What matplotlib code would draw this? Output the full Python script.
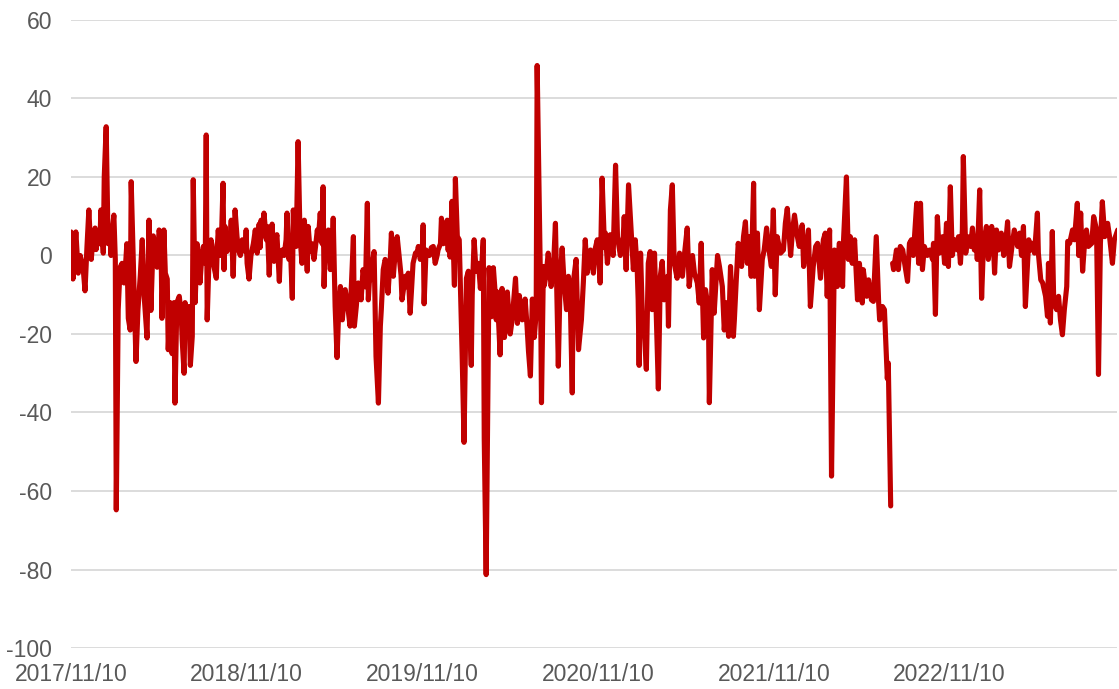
import numpy as np
import pandas as pd
import matplotlib
matplotlib.use("Agg")
import matplotlib.pyplot as plt

start_date = "2017-11-10"
end_date = "2023-10-24"

# days since start_date
day_offsets = [
    0, 4, 10, 15, 19, 25, 29, 33, 37, 42, 46, 50, 52, 56, 60, 62, 67, 69, 73, 77,
    81, 83, 87, 89, 92, 94, 98, 102, 106, 110, 114, 116, 119, 123, 125, 129, 133, 135, 139, 144,
    148, 152, 158, 162, 166, 171, 175, 179, 183, 187, 189, 193, 196, 200, 202, 206, 210, 214, 216, 220,
    225, 229, 231, 235, 237, 241, 245, 248, 252, 254, 258, 262, 266, 268, 272, 275, 279, 281, 283, 287,
    291, 293, 297, 302, 304, 306, 310, 312, 316, 318, 320, 324, 327, 331, 333, 337, 341, 345, 349, 352,
    356, 358, 362, 364, 366, 370, 374, 379, 383, 387, 391, 393, 395, 399, 401, 406, 408, 412, 414, 418,
    422, 424, 428, 433, 435, 439, 443, 447, 449, 453, 456, 460, 462, 466, 468, 472, 476, 480, 485, 489,
    491, 493, 497, 501, 505, 508, 512, 514, 518, 522, 524, 526, 528, 532, 535, 539, 543, 545, 549, 553,
    557, 560, 564, 568, 570, 574, 576, 580, 582, 587, 589, 593, 597, 601, 603, 607, 612, 616, 618, 620,
    624, 626, 630, 634, 639, 643, 645, 649, 653, 655, 659, 664, 666, 670, 674, 678, 682, 686, 688, 693,
    695, 699, 701, 705, 709, 711, 716, 720, 722, 726, 730, 732, 734, 738, 743, 745, 749, 753, 757, 761,
    763, 768, 770, 774, 778, 782, 784, 786, 788, 792, 797, 799, 803, 807, 813, 817, 822, 826, 828, 832,
    834, 838, 842, 847, 851, 855, 857, 859, 863, 869, 874, 878, 882, 884, 886, 892, 896, 901, 905, 907,
    913, 917, 924, 928, 932, 938, 944, 948, 951, 955, 959, 963, 967, 969, 976, 978, 982, 984, 988, 992,
    996, 998, 1003, 1007, 1011, 1013, 1017, 1021, 1025, 1030, 1034, 1038, 1042, 1044, 1050, 1055, 1061, 1065, 1069, 1073,
    1080, 1086, 1090, 1094, 1098, 1100, 1104, 1109, 1111, 1115, 1121, 1127, 1132, 1136, 1142, 1148, 1150, 1154, 1159, 1165,
    1169, 1173, 1177, 1179, 1181, 1184, 1188, 1192, 1196, 1200, 1204, 1208, 1213, 1217, 1221, 1225, 1229, 1233, 1240, 1242,
    1246, 1250, 1254, 1260, 1265, 1271, 1275, 1281, 1285, 1292, 1296, 1302, 1306, 1310, 1315, 1319, 1325, 1327, 1333, 1337,
    1344, 1348, 1354, 1358, 1362, 1367, 1371, 1377, 1379, 1383, 1387, 1394, 1398, 1402, 1406, 1410, 1414, 1419, 1421, 1427,
    1431, 1437, 1441, 1446, 1450, 1456, 1460, 1464, 1468, 1475, 1481, 1485, 1489, 1496, 1500, 1504, 1510, 1514, 1520, 1523,
    1529, 1533, 1537, 1543, 1548, 1552, 1558, 1564, 1568, 1572, 1577, 1581, 1587, 1593, 1597, 1604, 1606, 1612, 1616, 1620,
    1624, 1629, 1635, 1639, 1645, 1647, 1654, 1658, 1664, 1668, 1674, 1679, 1681, 1687, 1691, 1697, 1699, 1704, 1706, 1708,
    1710, 1716, 1720, 1724, 1729, 1733, 1739, 1743, 1747, 1751, 1758, 1762, 1766, 1770, 1774, 1780, 1785, 1791, 1793, 1797,
    1801, 1805, 1812, 1816, 1820, 1824, 1828, 1832, 1837, 1843, 1845, 1849, 1853, 1855, 1860, 1864, 1870, 1874, 1878, 1882,
    1884, 1889, 1893, 1897, 1903, 1907, 1914, 1918, 1920, 1924, 1928, 1934, 1939, 1943, 1947, 1951, 1957, 1961, 1968, 1972,
    1976, 1980, 1984, 1991, 1995, 1999, 2003, 2009, 2011, 2016, 2020, 2026, 2030, 2032, 2036, 2040, 2043, 2049, 2053, 2057,
    2061, 2065, 2070, 2072, 2076, 2082, 2086, 2092, 2095, 2099, 2103, 2107, 2111, 2115, 2122, 2126, 2132, 2136, 2140, 2144,
    2149, 2155, 2159, 2165, 2169, 2176,
]

nan = float("nan")
values = [
    6, -6, 6, -4.5, 0, -3, -9, 2, 11.6, -1, 5, 7, 1.5, 5, 3, 11.6, 0.6, 20, 32.8, 3,
    7, 0, 8, 10.3, -1, -64.8, -13.8, -3, -2, -7, -1, 3, -16, -19, 18.8, 0, -18, -27, -14, -5,
    4, -10.4, -21, 9, -14, 5, 1, -3, 6.5, 4, -16, 6.5, -4.5, -6, -24, -12, -25, -12, -37.6, -12,
    -10.4, -15, -21.5, -30, -12, -18, -13, -28, -20.6, 19.3, -12, 3, -2, -7, 0, 2.3, -2, 30.7, -16.4, 0,
    4, 2.7, -2.8, -5.8, 2, 6.5, 0, 1.4, 18.4, -3.6, 7.4, 1, 3, 5, 9, -5.3, 11.6, 4.8, 1, 0,
    4, 3, 1, 6.5, -2, -6, 0, 3, 6.5, 0.6, 8, 2, 9, 5, 10.8, 4, 7.4, -5, 2, 8,
    -1.5, 3, 5.3, -6.6, 0, 1.4, 0, 4, 10.8, -1, 2, -10.9, 11.6, 5, 2.3, 29, 5, -2, 9, 2,
    -4, 7.4, 1, 3, -1, 2, 6.5, 4, 10.8, 3, 17.5, -7.9, 0, 3, 6.5, -3.6, 2, 9.5, -13, -26,
    -12, -7.9, -16.4, -10, -8.7, -12, -13.8, -18, -10, 4.8, -18, -13, -7, -9, -11.3, -3.6, -8, 13.3, -11.3, -7,
    -4, -2, 1, -25.7, -37.6, -18, -13.8, -3.6, -1, -2, -9.6, 0, 5.7, -5.3, 1, 4.8, 0, -5, -11.3, -7,
    -5.3, -8, -4.5, -14.7, -6, -2, 0.6, 1, 2.3, -1, 1, 7.8, -12.3, 1.4, 0, 0, 2, 2.3, -2, 0,
    1.4, 3, 9.5, 3, 5, 9, 1.3, 8.4, -0.4, 13.8, -7.6, 19.6, 4.9, 4, -25, -47.6, -5.8, -4, -14.7, -28,
    -10, 4, -4, -2, -8.4, 0, 4, -46.7, -81.3, -3.1, -15.6, -3.1, -10, -16.4, -9.3, -25.3, -8.4, -20.9, -14, -9.3,
    -20, -16.4, -5.8, -17.3, -10.2, -16.4, -11.1, -18, -24.4, -30.7, -11.1, -20.9, -14.7, 48.4, -8, -37.5, -2.8, -7.6, -4.5, 0.6,
    -5, -7.9, -2.8, 8.2, -16.4, -28.2, -5.3, 1.9, -7, -13.8, -5.3, -12, -35, -7, -1, -24, -16.4, -7, 4, -4.5,
    1.4, -4.5, 1.9, 4, -2, -7, 19.7, 2, 5.7, -2, 5.3, 0, 23, 4.8, 0, 4.8, 9.9, -3.6, 18, 4.8,
    -3.6, 4, -3.6, -11.3, -28, 0.6, -16.4, -20, -29, -2, 1, -13.8, 0.6, -16.4, -34, -5.3, -1.5, -11.3, -5.3, -18,
    11.6, 18, -2, -5.8, 0.6, -5.3, 0, 7, -7.9, 0, -4.5, -7, -12.1, 3.1, -21, -8.7, -13.8, -37.5, -3.6, -14.7,
    0, -2.8, -7.9, -19, -12, -20.6, -2.8, -20.6, -16.4, -6.2, 3.1, -2.8, 4.8, 8.6, -2, 4.8, -5.3, 18.4, -5.3, 5.7,
    -13.8, -1, 1.4, 7, 2.3, -2.8, 11.6, -10, 4.8, 0.6, 1.4, 8.2, 12, 0, 6.5, 10.3, 4.8, 2.3, 7.8, -2.8,
    3.1, 6.5, -13, -2.8, 2.3, 3.1, -5.8, 4, 5.7, -10.4, 6.5, -56.2, 1.4, -7.9, 3.1, -7.9, 4, 20, -1, 4.8,
    -2, 4, -11.3, -2, -12.1, -3.6, -10.4, -6.2, -11.3, -11.7, 4.8, -12.1, -16.4, -13, -13.8, -31.4, -27.4, -63.8, nan, -2,
    -3.6, 1.4, -3.6, 2.3, 1.4, -2, -6.6, 3.1, 4, 0, 13.3, -2, 13.3, -3.6, 2.3, 0, 1.4, -1, 3.1, -15,
    9.9, 0.6, 4.8, -2, 8.2, -2.8, 17.5, 0, 4, 1.4, 4.8, -2, 6.5, 25.2, 0.6, 4.8, 2.3, 7, 1.4, 4,
    -1, 16.7, -10.9, 3.1, 7.4, -1, 7.4, 1.4, -4.5, 6.5, 1.4, 5.7, 0, 3.1, 8.6, -2.8, 3.1, 6.5, 2.3, 5.7,
    0, 7.4, -13, 4, 1.4, 3.1, 0.6, 10.8, 0.6, -6.2, -7, -10.4, -15.5, -2, -17.2, 6.1, -12.1, -13.8, -10.4, -16.4,
    -20.2, -13.8, -7.9, 3.6, 3.1, 6.5, 4, 13.3, 0, 10.8, -4, 3.1, 6.5, 2.3, 3.1, 9.9, 6.5, -30.3, 3.1, 13.7,
    4.8, 8.2, 4.8, -2, 4, 6.5,
]

tick_labels = ["2017/11/10", "2018/11/10", "2019/11/10", "2020/11/10", "2021/11/10", "2022/11/10"]
y_ticks = [-100, -80, -60, -40, -20, 0, 20, 40, 60]

n = min(len(day_offsets), len(values))
dates = pd.Timestamp(start_date) + pd.to_timedelta(np.array(day_offsets[:n]), unit="D")
series = np.array(values[:n], dtype=float)

plt.rcParams["font.family"] = ["Liberation Sans", "DejaVu Sans"]

fig = plt.figure(figsize=(11.19, 6.89), dpi=100)
ax = fig.add_axes([0.0635, 0.0595, 0.9345, 0.9115])

ax.plot(dates, series, color="#c00000", linewidth=3.7, solid_joinstyle="round",
        solid_capstyle="round", zorder=3)

ax.set_ylim(-100, 60)
ax.set_yticks(y_ticks)
ax.set_yticklabels([str(v) for v in y_ticks])
ax.set_xlim(pd.Timestamp(start_date), pd.Timestamp(end_date))
tick_dates = [pd.Timestamp(s.replace("/", "-")) for s in tick_labels]
ax.set_xticks(tick_dates)
ax.set_xticklabels(tick_labels)

ax.grid(axis="y", color="#d9d9d9", linewidth=1.3, zorder=0)
ax.grid(axis="x", visible=False)
for s in ax.spines.values():
    s.set_visible(False)
ax.tick_params(axis="both", length=0, labelsize=16.5, colors="#595959")
ax.tick_params(axis="y", pad=13.5)
ax.tick_params(axis="x", pad=10.5)

fig.savefig("out.png", dpi=100)
